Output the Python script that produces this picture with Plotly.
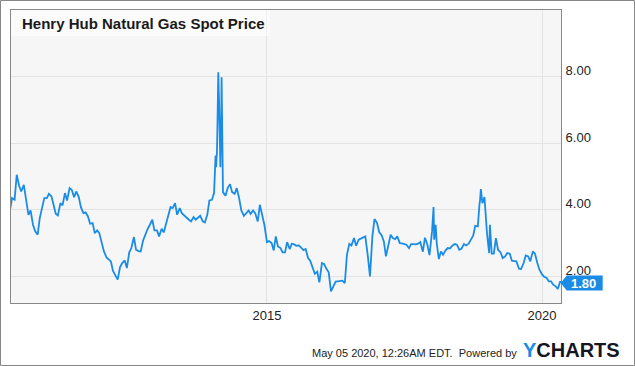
import pandas as pd
import plotly.graph_objects as go

# ---- data (semi-monthly readings, USD/MMBtu) ----
base_start = "2010-05-01"
base_end = "2020-05-01"
prices_2010 = [3.98, 4.35, 4.30, 5.05, 4.72, 4.55, 4.75, 4.35, 3.85, 3.98, 3.55, 3.36, 3.25, 3.75, 4.10, 4.35]
prices_2011 = [4.35, 4.48, 4.40, 4.10, 3.88, 3.83, 4.20, 4.13, 4.50, 4.28, 4.65, 4.60, 4.38, 4.55, 4.38, 4.08, 3.90, 3.92, 3.80, 3.58, 3.60, 3.30, 3.38, 3.30]
prices_2012 = [3.03, 2.75, 2.57, 2.52, 2.45, 2.16, 2.02, 1.90, 2.28, 2.40, 2.48, 2.25, 2.72, 2.85, 3.18, 2.80, 2.76, 2.75, 3.08, 3.25, 3.43, 3.55, 3.70, 3.38]
prices_2013 = [3.38, 3.20, 3.43, 3.32, 3.55, 3.85, 4.08, 4.05, 4.20, 3.85, 4.05, 3.90, 3.83, 3.75, 3.70, 3.65, 3.78, 3.70, 3.75, 3.82, 3.65, 3.62, 3.85, 4.28]
prices_2014 = [4.30, 4.50, 5.60, 7.60, 6.20, 4.53, 4.42, 4.65, 4.77, 4.53, 4.48, 4.65, 4.33, 3.98, 3.82, 3.88, 3.98, 3.88, 3.98, 3.90, 3.65, 4.15, 3.85, 3.55]
prices_2015 = [3.03, 3.06, 3.00, 2.78, 3.20, 2.90, 2.85, 2.72, 2.72, 3.03, 2.82, 2.98, 2.96, 2.92, 2.93, 2.86, 2.79, 2.82, 2.55, 2.47, 2.25, 2.08, 2.14, 1.82]
prices_2016 = [2.40, 2.37, 2.22, 2.12, 1.55, 1.68, 1.84, 1.85, 1.85, 1.87, 1.80, 2.65, 2.98, 2.93, 3.15, 2.92, 3.10, 3.13, 3.15, 3.20, 2.60, 2.00, 3.20, 3.72]
prices_2017 = [3.60, 3.33, 3.23, 3.05, 2.60, 2.90, 3.25, 3.15, 3.12, 3.20, 3.00, 2.99, 2.98, 2.95, 2.85, 2.97, 2.97, 2.96, 2.98, 3.03, 2.74, 3.16, 2.95, 2.64]
prices_2018 = [3.35, 3.10, 3.00, 2.52, 2.75, 2.65, 2.78, 2.85, 2.84, 2.92, 2.97, 2.95, 2.80, 2.83, 2.97, 2.93, 2.98, 3.10, 3.22, 3.52, 3.50, 4.25, 4.20, 4.38]
prices_2019 = [3.28, 2.70, 2.68, 2.68, 3.15, 2.80, 2.72, 2.55, 2.60, 2.70, 2.68, 2.47, 2.46, 2.45, 2.23, 2.22, 2.40, 2.63, 2.60, 2.45, 2.75, 2.68, 2.40, 2.20]
prices_2020 = [2.06, 1.99, 1.95, 1.85, 1.85, 1.75, 1.70, 1.62, 1.85]

# extra daily readings around short-lived spikes
spike_dates = ["2014-01-25", "2014-01-29", "2014-02-03", "2014-02-07", "2014-02-12",
               "2014-02-17", "2014-02-22", "2014-02-26", "2014-03-03", "2014-03-06",
               "2014-03-10", "2018-01-11", "2018-01-25", "2018-11-12", "2018-11-21",
               "2019-01-20", "2020-05-04"]
spike_values = [5.63, 5.28, 5.68, 6.68, 8.13, 7.28, 5.98, 5.28, 6.48, 7.98,
                5.98, 4.08, 3.55, 4.18, 4.62, 3.55, 1.80]

last_value = 1.80
y_ticks = [2, 4, 6, 8]
y_tick_labels = ["2.00", "4.00", "6.00", "8.00"]
x_ticks = ["2015-01-01", "2020-01-01"]
x_tick_labels = ["2015", "2020"]
title_text = "Henry Hub Natural Gas Spot Price"
footer_text = "May 05 2020, 12:26AM EDT.  Powered by"

base_values = (prices_2010 + prices_2011 + prices_2012 + prices_2013 + prices_2014 +
               prices_2015 + prices_2016 + prices_2017 + prices_2018 + prices_2019 + prices_2020)
base_dates = pd.date_range(base_start, base_end, freq="SMS")
df = pd.concat([
    pd.DataFrame({"date": base_dates, "price": base_values}),
    pd.DataFrame({"date": pd.to_datetime(spike_dates), "price": spike_values}),
]).sort_values("date")

# ---- geometry ----
W, H = 635, 366
ML, MR, MT, MB = 11, 74, 10, 63
PW, PH = W - ML - MR, H - MT - MB

BLUE = "#1a8ce6"
FONT = "Liberation Sans, Arial, sans-serif"

def px(x):  # pixel x -> paper
    return (x - ML) / PW

def py(y):  # pixel y -> paper
    return 1 - (y - MT) / PH

fig = go.Figure()
fig.add_trace(go.Scatter(x=df["date"], y=df["price"], mode="lines",
                         line=dict(color=BLUE, width=1.8), hoverinfo="skip",
                         showlegend=False))

fig.update_layout(
    width=W, height=H,
    margin=dict(l=ML, r=MR, t=MT, b=MB),
    paper_bgcolor="white",
    plot_bgcolor="#f6f6f6",
    font=dict(family=FONT, size=13, color="#222"),
    xaxis=dict(range=["2010-05-08", "2020-05-06"], tickvals=x_ticks, ticktext=x_tick_labels,
               showgrid=True, gridcolor="#e3e3e3", gridwidth=1, zeroline=False,
               showline=True, linecolor="#888", linewidth=1, mirror=True,
               ticks="", tickfont=dict(size=13, color="#222")),
    yaxis=dict(range=[1.2, 10], side="right", tickvals=y_ticks, ticktext=y_tick_labels,
               showgrid=True, gridcolor="#e3e3e3", gridwidth=1, zeroline=False,
               showline=True, linecolor="#888", linewidth=1, mirror=True,
               ticks="", ticklabelshift=-6, ticklabelstandoff=1,
               tickfont=dict(size=13, color="#222")),
)

shapes = []
# outer border
shapes.append(dict(type="rect", xref="paper", yref="paper", layer="above",
                   x0=px(0.5), x1=px(W - 0.5), y0=py(H - 0.5), y1=py(0.5),
                   line=dict(color="#888", width=1), fillcolor="rgba(0,0,0,0)"))
# title box
shapes.append(dict(type="rect", xref="paper", yref="paper", layer="above",
                   x0=0, x1=px(270), y0=py(36), y1=1,
                   line=dict(width=0), fillcolor="rgba(255,255,255,0.5)"))
# last value tag (arrow box)
half = 7.5 / PH * (10 - 1.2)
x_tip, x_box, x_end = px(560.7), px(566.7), px(602.7)
path = (f"M {x_tip},{last_value} L {x_box},{last_value + half} L {x_end},{last_value + half} "
        f"L {x_end},{last_value - half} L {x_box},{last_value - half} Z")
shapes.append(dict(type="path", xref="paper", yref="y", path=path, layer="above",
                   fillcolor=BLUE, line=dict(width=0)))
fig.update_layout(shapes=shapes)

annotations = [
    dict(text=f"<b>{title_text}</b>", xref="paper", yref="paper", x=px(20), y=py(23),
         xanchor="left", yanchor="middle", showarrow=False,
         font=dict(family=FONT, size=15, color="#1a1a1a")),
    dict(text=f"<b>{last_value:.2f}</b>", xref="paper", yref="y", x=px(583.5), y=last_value,
         xanchor="center", yanchor="middle", showarrow=False,
         font=dict(family=FONT, size=13, color="white")),
    dict(text=footer_text, xref="paper", yref="paper", x=px(519), y=py(353),
         xanchor="right", yanchor="middle", showarrow=False,
         font=dict(family=FONT, size=11, color="#222")),
    dict(text="<b><span style='color:%s'>Y</span>CHARTS</b>" % BLUE, xref="paper", yref="paper",
         x=px(521), y=py(350), xanchor="left", yanchor="middle", showarrow=False,
         font=dict(family=FONT, size=20, color="#15161f")),
]
fig.update_layout(annotations=annotations)

fig.write_html("out.html", config={"displayModeBar": False},
               post_script="document.body.style.margin='0px';")
